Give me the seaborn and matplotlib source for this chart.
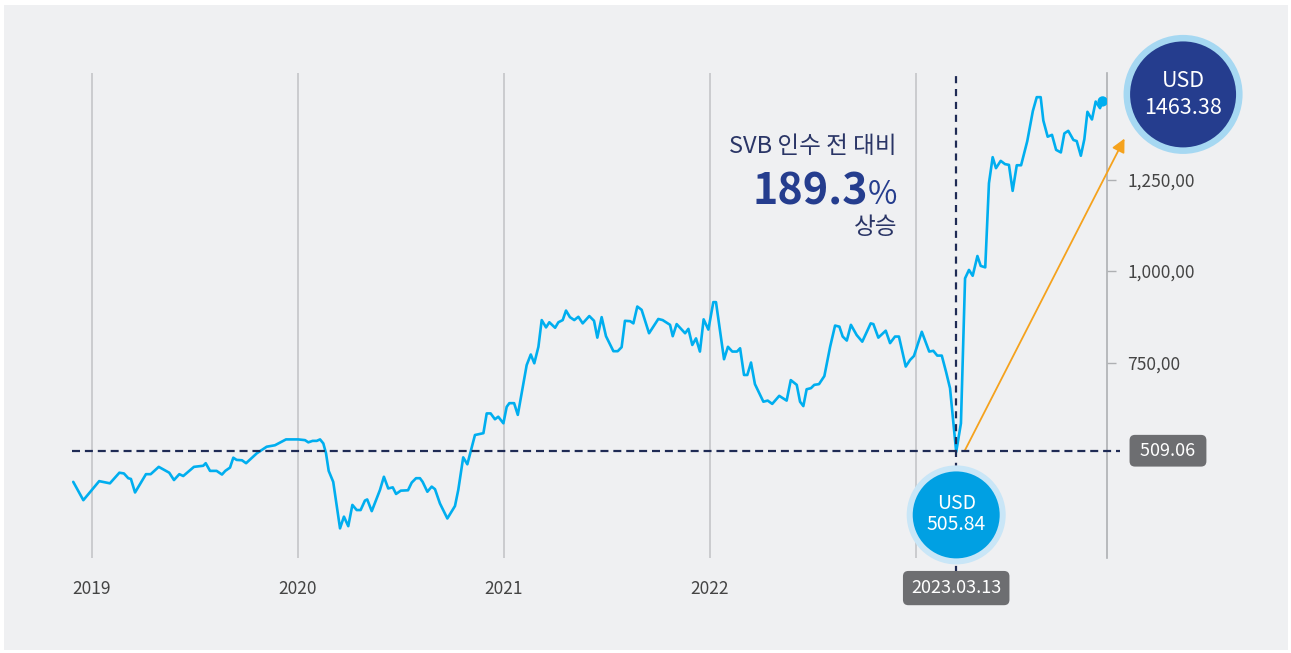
import matplotlib.pyplot as plt
import matplotlib.transforms as mtransforms
from matplotlib.patches import Rectangle
import seaborn as sns
import pandas as pd

# 시점 (연 단위 소수) 과 가격 (USD)
t = [2018.909, 2018.958, 2019.035, 2019.087, 2019.133, 2019.155, 2019.176, 2019.189, 2019.209, 2019.262,
     2019.285, 2019.324, 2019.375, 2019.398, 2019.424, 2019.443, 2019.495, 2019.540, 2019.552, 2019.573,
     2019.605, 2019.631, 2019.647, 2019.670, 2019.686, 2019.702, 2019.728, 2019.748, 2019.800, 2019.848,
     2019.888, 2019.942, 2020.001, 2020.034, 2020.050, 2020.071, 2020.091, 2020.107, 2020.123, 2020.136,
     2020.149, 2020.171, 2020.204, 2020.223, 2020.244, 2020.264, 2020.285, 2020.304, 2020.325, 2020.336,
     2020.358, 2020.398, 2020.417, 2020.438, 2020.460, 2020.476, 2020.499, 2020.534, 2020.552, 2020.573,
     2020.592, 2020.605, 2020.628, 2020.649, 2020.665, 2020.689, 2020.725, 2020.762, 2020.778, 2020.802,
     2020.822, 2020.859, 2020.900, 2020.916, 2020.935, 2020.956, 2020.972, 2020.997, 2021.013, 2021.026,
     2021.049, 2021.067, 2021.110, 2021.130, 2021.147, 2021.167, 2021.183, 2021.204, 2021.220, 2021.248,
     2021.264, 2021.285, 2021.301, 2021.320, 2021.341, 2021.361, 2021.382, 2021.414, 2021.437, 2021.453,
     2021.474, 2021.495, 2021.531, 2021.552, 2021.571, 2021.587, 2021.612, 2021.628, 2021.647, 2021.668,
     2021.704, 2021.749, 2021.770, 2021.806, 2021.819, 2021.838, 2021.879, 2021.895, 2021.914, 2021.932,
     2021.951, 2021.969, 2021.992, 2022.016, 2022.029, 2022.068, 2022.087, 2022.108, 2022.131, 2022.146,
     2022.165, 2022.181, 2022.199, 2022.218, 2022.259, 2022.280, 2022.302, 2022.336, 2022.372, 2022.392,
     2022.421, 2022.437, 2022.453, 2022.469, 2022.490, 2022.506, 2022.529, 2022.555, 2022.583, 2022.607,
     2022.628, 2022.644, 2022.664, 2022.684, 2022.712, 2022.739, 2022.780, 2022.793, 2022.817, 2022.853,
     2022.874, 2022.898, 2022.917, 2022.950, 2022.971, 2022.990, 2023.028, 2023.064, 2023.084, 2023.103,
     2023.125, 2023.146, 2023.165, 2023.195, 2023.218, 2023.238, 2023.257, 2023.275, 2023.298, 2023.314,
     2023.336, 2023.354, 2023.372, 2023.388, 2023.411, 2023.432, 2023.451, 2023.469, 2023.489, 2023.510,
     2023.540, 2023.567, 2023.586, 2023.605, 2023.618, 2023.639, 2023.660, 2023.680, 2023.703, 2023.720,
     2023.739, 2023.764, 2023.780, 2023.800, 2023.817, 2023.832, 2023.854, 2023.872, 2023.893, 2023.906]
price = [424, 374, 426, 420, 449, 447, 434, 432, 395, 445,
         445, 465, 449, 429, 445, 440, 465, 468, 475, 454,
         454, 444, 454, 463, 490, 484, 483, 475, 502, 520,
         524, 540, 540, 538, 532, 536, 536, 540, 529, 502,
         454, 424, 297, 329, 303, 361, 347, 347, 373, 376,
         344, 402, 438, 406, 409, 391, 400, 401, 422, 434,
         434, 424, 397, 411, 404, 365, 324, 358, 402, 491,
         472, 552, 557, 611, 611, 595, 602, 584, 629, 639,
         639, 607, 743, 772, 748, 793, 866, 846, 860, 845,
         860, 866, 892, 874, 866, 875, 857, 877, 864, 818,
         874, 822, 781, 781, 792, 864, 863, 857, 903, 894,
         830, 869, 866, 853, 822, 855, 830, 842, 798, 816,
         780, 868, 840, 915, 915, 759, 793, 780, 780, 789,
         716, 716, 750, 691, 643, 646, 637, 659, 646, 702,
         689, 643, 631, 677, 680, 689, 691, 713, 793, 851,
         848, 821, 810, 853, 825, 807, 857, 855, 818, 837,
         803, 821, 821, 739, 757, 768, 834, 780, 782, 769,
         769, 724, 680, 505.84, 584, 980, 1003, 987, 1041, 1014,
         1010, 1240, 1311, 1281, 1301, 1292, 1290, 1219, 1289, 1289,
         1355, 1437, 1475, 1475, 1411, 1367, 1372, 1331, 1324, 1376,
         1383, 1358, 1355, 1315, 1360, 1435, 1414, 1463, 1445, 1463.38]

year_ticks = [2019, 2020, 2021, 2022]
year_lines = [2019, 2020, 2021, 2022, 2023]
y_ticks = [750, 1000, 1250]
y_labels = ['750,00', '1,000,00', '1,250,00']

svb_date = 2023.195
svb_label = '2023.03.13'
base_price = 509.06
low_price = 505.84
last_price = 1463.38
rise_pct = (last_price / low_price - 1) * 100

LINE = '#00aeef'
NAVY = '#253d8e'
DASH = '#1f2b55'
GRID = '#c4c5c8'
BOX = '#6d6e71'
ORANGE = '#f5a21d'

sns.set_theme(style='white')
plt.rcParams['font.family'] = ['Noto Sans CJK KR', 'DejaVu Sans']

df = pd.DataFrame({'t': t, 'price': price})

fig = plt.figure(figsize=(12.91, 6.53), dpi=100)
fig.patch.set_facecolor('white')
fig.patches.append(Rectangle((4 / 1291, 3 / 653), 1284 / 1291, 645 / 653,
                             transform=fig.transFigure, facecolor='#eff0f2',
                             edgecolor='none', zorder=-10))

ax = fig.add_axes([72 / 1291, 95 / 653, 1035 / 1291, 485 / 653])
ax.set_zorder(1)
ax.set_facecolor('none')

for yr in year_lines:
    ax.axvline(yr, color=GRID, lw=1.2, zorder=1)

sns.lineplot(data=df, x='t', y='price', color=LINE, lw=1.9, ax=ax, zorder=3)
ax.scatter([t[-1]], [price[-1]], s=55, color=LINE, zorder=4, edgecolor='none')

ax.set_xlim(2018.903, 2023.927)
ax.set_ylim(216, 1541)

# 축
for side in ['top', 'left', 'bottom']:
    ax.spines[side].set_visible(False)
ax.spines['right'].set_color('#aeb0b3')
ax.spines['right'].set_linewidth(1.2)
ax.yaxis.tick_right()
ax.set_yticks(y_ticks)
ax.set_yticklabels(y_labels)
ax.tick_params(axis='y', length=6.5, width=1, color='#aeb0b3', pad=8,
               labelsize=12.5, labelcolor='#444444')
ax.set_xticks(year_ticks)
ax.set_xticklabels([str(y) for y in year_ticks])
ax.tick_params(axis='x', length=0, pad=16, labelsize=12.5, labelcolor='#444444')
ax.set_xlabel('')
ax.set_ylabel('')
ax.grid(False)

# 기준선
ax.axhline(base_price, xmin=0, xmax=1.0126, color=DASH, lw=1.6,
           ls=(0, (3.6, 2.2)), clip_on=False, zorder=5)
ax.axvline(svb_date, ymin=-0.031, ymax=1, color=DASH, lw=1.6,
           ls=(0, (3.2, 2.6)), clip_on=False, zorder=5)

# 상승 화살표
ax.annotate('', xy=(2024.012, 1362), xytext=(2023.238, 511),
            arrowprops=dict(arrowstyle='-|>', color=ORANGE, lw=1.3,
                            mutation_scale=20, shrinkA=0, shrinkB=0),
            annotation_clip=False, zorder=4)

# 원형 라벨
def offset(dx_px, dy_px):
    return ax.transData + mtransforms.ScaledTranslation(dx_px / 100, dy_px / 100,
                                                        fig.dpi_scale_trans)

low_tr = offset(0, -63)
ax.scatter([svb_date], [low_price], s=5083, color='#c9e6f7', edgecolor='none',
           transform=low_tr, clip_on=False, zorder=6)
ax.scatter([svb_date], [low_price], s=3921, color='#00a0e3', edgecolor='none',
           transform=low_tr, clip_on=False, zorder=7)
ax.annotate('USD', xy=(svb_date, low_price), xytext=(0, -41.2), textcoords='offset points',
            ha='center', va='baseline', color='white', fontsize=14, zorder=8,
            annotation_clip=False)
ax.annotate(f'{low_price:.2f}', xy=(svb_date, low_price), xytext=(0, -56.2),
            textcoords='offset points', ha='center', va='baseline', color='white',
            fontsize=14, zorder=8, annotation_clip=False)

hi_tr = offset(80.4, 7)
ax.scatter([t[-1]], [last_price], s=7344, color='#a6d8f2', edgecolor='none',
           transform=hi_tr, clip_on=False, zorder=6)
ax.scatter([t[-1]], [last_price], s=5822, color=NAVY, edgecolor='none',
           transform=hi_tr, clip_on=False, zorder=7)
ax.annotate('USD', xy=(t[-1], last_price), xytext=(57.9, 10.5), textcoords='offset points',
            ha='center', va='baseline', color='white', fontsize=15.5, zorder=8,
            annotation_clip=False)
ax.annotate(f'{last_price:.2f}', xy=(t[-1], last_price), xytext=(57.9, -9.2),
            textcoords='offset points', ha='center', va='baseline', color='white',
            fontsize=15.5, zorder=8, annotation_clip=False)

# 값 박스
ax.text(2024.223, base_price, f' {base_price:.2f} ', ha='center', va='center',
        color='white', fontsize=13, zorder=8, clip_on=False,
        bbox=dict(boxstyle='round,pad=0.38,rounding_size=0.3', fc=BOX, ec='none'))
ax.text(svb_date, -0.062, svb_label, transform=ax.get_xaxis_transform(),
        ha='center', va='center', color='white', fontsize=13, zorder=8, clip_on=False,
        bbox=dict(boxstyle='round,pad=0.45,rounding_size=0.3', fc=BOX, ec='none'))

# 상승률 문구
tx = 2022.908
ax.text(tx, 1323, 'SVB 인수 전 대비', ha='right', va='baseline', color='#2a3566',
        fontsize=17, zorder=8)
ax.text(tx, 1183, '%', ha='right', va='baseline', color=NAVY, fontsize=23, zorder=8)
ax.annotate(f'{rise_pct:.1f}', xy=(tx, 1183), xytext=(-21, 0), textcoords='offset points',
            ha='right', va='baseline', color=NAVY, fontsize=31, fontweight='bold', zorder=8)
ax.text(tx, 1101, '상승', ha='right', va='baseline', color='#2a3566',
        fontsize=17, zorder=8)

fig.savefig('out.png', dpi=100, facecolor=fig.get_facecolor())
